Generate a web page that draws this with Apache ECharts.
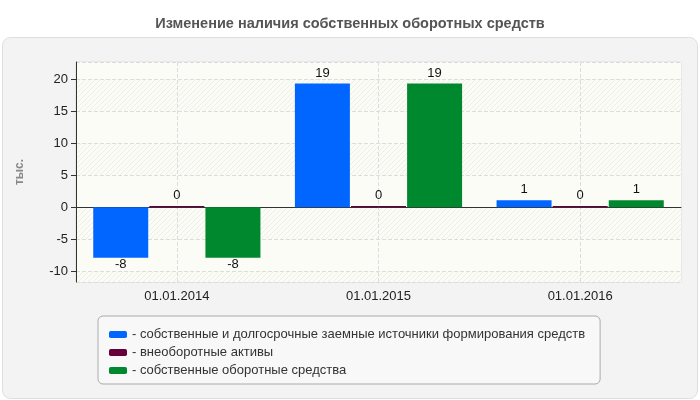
<!DOCTYPE html>
<html>
<head>
<meta charset="utf-8">
<script src="https://cdn.jsdelivr.net/npm/echarts@6/dist/echarts.min.js"></script>
<style>
  html, body { margin: 0; padding: 0; background: #fff; }
  #chart { width: 700px; height: 400px; }
</style>
</head>
<body>
<div id="chart"></div>
<script>
  // даты отчётных периодов
  const categories = ['01.01.2014', '01.01.2015', '01.01.2016'];
  const seriesNames = [
    'собственные и долгосрочные заемные источники формирования средств',
    'внеоборотные активы',
    'собственные оборотные средства'
  ];
  // значения, тыс.
  const ownAndLongTerm = [-7.9, 19.3, 1.1];
  const fixedAssets = [0.2, 0.2, 0.2];
  const ownWorking = [-7.9, 19.3, 1.1];
  const colors = ['#0066ff', '#66003a', '#00882f'];

  // диагональная штриховка фона
  function hatch() {
    var c = document.createElement('canvas');
    c.width = 5; c.height = 5;
    var g = c.getContext('2d');
    g.fillStyle = '#fcfcf7';
    g.fillRect(0, 0, 5, 5);
    g.strokeStyle = '#eeeee8';
    g.lineWidth = 1;
    g.beginPath();
    g.moveTo(-1, 6); g.lineTo(6, -1);
    g.moveTo(-1, 1); g.lineTo(1, -1);
    g.moveTo(4, 6); g.lineTo(6, 4);
    g.stroke();
    return { image: c, repeat: 'repeat' };
  }

  function toItems(arr) {
    return arr.map(function (v) {
      return { value: v, label: { position: v < 0 ? 'bottom' : 'top', distance: v < 0 ? 0 : 4 } };
    });
  }

  var chart = echarts.init(document.getElementById('chart'), null, { renderer: 'canvas' });
  var font = 'Arial, "Liberation Sans", sans-serif';

  var series = [ownAndLongTerm, fixedAssets, ownWorking].map(function (arr, i) {
    return {
      name: seriesNames[i],
      type: 'bar',
      data: toItems(arr),
      barWidth: 55,
      barGap: '2%',
      itemStyle: { color: colors[i] },
      label: {
        show: true,
        color: '#111',
        fontSize: 13,
        fontFamily: font,
        formatter: function (p) { return Math.round(p.value); }
      }
    };
  });

  chart.setOption({
    animation: false,
    textStyle: { fontFamily: font },
    title: {
      text: 'Изменение наличия собственных оборотных средств',
      left: 'center',
      top: 11,
      textStyle: { fontSize: 14.5, fontWeight: 'bold', color: '#555', fontFamily: font }
    },
    graphic: [{
      type: 'rect',
      z: -100,
      shape: { x: 2.5, y: 37.5, width: 695, height: 361, r: 8 },
      style: { fill: '#f3f3f3', stroke: '#dedede', lineWidth: 1 }
    }],
    legend: {
      orient: 'vertical',
      left: 98,
      top: 316,
      padding: [12, 15, 7, 11],
      itemGap: 5,
      itemWidth: 18,
      itemHeight: 7,
      icon: 'roundRect',
      backgroundColor: '#f8f8f8',
      borderColor: '#aaa',
      borderWidth: 1,
      borderRadius: 5,
      formatter: '- {name}',
      textStyle: { fontSize: 13, color: '#333', fontFamily: font },
      data: seriesNames
    },
    grid: {
      left: 76,
      right: 19,
      top: 62,
      bottom: 118,
      show: true,
      borderColor: '#ddd',
      backgroundColor: '#fcfcf7',
      outerBoundsMode: 'none'
    },
    xAxis: {
      type: 'category',
      data: categories,
      axisLine: { lineStyle: { color: '#333' } },
      axisTick: { alignWithLabel: true, length: 5, lineStyle: { color: '#333' } },
      axisLabel: { color: '#222', fontSize: 13, margin: 8 },
      splitLine: { show: true, alignWithLabel: true, lineStyle: { color: '#ddd', type: 'dashed' } }
    },
    yAxis: {
      type: 'value',
      min: -11.67,
      max: 22.66,
      minInterval: 5,
      maxInterval: 5,
      name: 'тыс.',
      nameLocation: 'middle',
      nameRotate: 90,
      nameGap: 50,
      nameTextStyle: { fontSize: 12, fontWeight: 'bold', color: '#888' },
      axisLine: { show: true, lineStyle: { color: '#333' } },
      axisTick: { show: true, length: 5, lineStyle: { color: '#333' } },
      axisLabel: { color: '#222', fontSize: 13, margin: 8, showMinLabel: false, showMaxLabel: false },
      splitLine: { lineStyle: { color: '#ddd', type: 'dashed' } },
      splitArea: { show: true, areaStyle: { color: [hatch(), '#fcfcf7'] } }
    },
    series: series
  });
</script>
</body>
</html>
